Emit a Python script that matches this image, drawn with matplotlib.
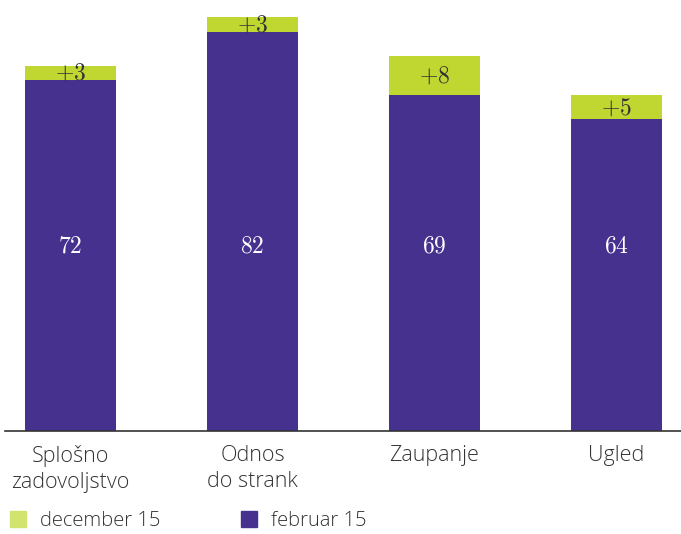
import matplotlib.pyplot as plt
from matplotlib.patches import Patch

plt.rcParams["mathtext.fontset"] = "cm"

# data
cats = ["Splošno\nzadovoljstvo", "Odnos\ndo strank", "Zaupanje", "Ugled"]
feb15 = [72, 82, 69, 64]
dec_diff = [3, 3, 8, 5]
diff_labels = ["+3", "+3", "+8", "+5"]

purple = "#46318f"
green = "#bfd730"
green_leg = "#d3e46e"

fig = plt.figure(figsize=(6.81, 5.34), dpi=100)
ax = fig.add_axes([5 / 681, 103 / 534, 676 / 681, 431 / 534])

x = [0, 1, 2, 3]
ax.bar(x, feb15, width=0.5, color=purple, zorder=2)
ax.bar(x, dec_diff, bottom=feb15, width=0.5, color=green, zorder=2)

for i in x:
    ax.text(i, 38.0, "$" + str(feb15[i]) + "$", ha="center", va="center", color="white",
            fontsize=17)
    ax.text(i, feb15[i] + dec_diff[i] / 2, "$" + diff_labels[i] + "$", ha="center", va="center",
            color="#333333", fontsize=17)

ax.set_xlim(-0.36, 3.354)
ax.set_ylim(0, 88.5)
for s in ["top", "right", "left"]:
    ax.spines[s].set_visible(False)
ax.spines["bottom"].set_color("#333333")
ax.spines["bottom"].set_linewidth(1.2)
ax.set_yticks([])
ax.set_xticks(x)
ax.set_xticklabels(cats, fontsize=15.5, family="Open Sans", fontweight="light",
                   color="#333333", linespacing=1.35)
ax.tick_params(axis="x", length=0, pad=10)

handles = [Patch(color=green_leg, label="december 15"), Patch(color=purple, label="februar 15")]
fig.legend(handles=handles, loc="center left", bbox_to_anchor=(10 / 681, 1 - 521 / 534), ncol=2,
           frameon=False, borderpad=0, borderaxespad=0,
           prop={"family": "Open Sans", "size": 14.5, "weight": "light"},
           handlelength=0.8, handleheight=0.8,
           handletextpad=0.7, columnspacing=4.0, labelcolor="#333333")

fig.savefig("out.png", dpi=100)
